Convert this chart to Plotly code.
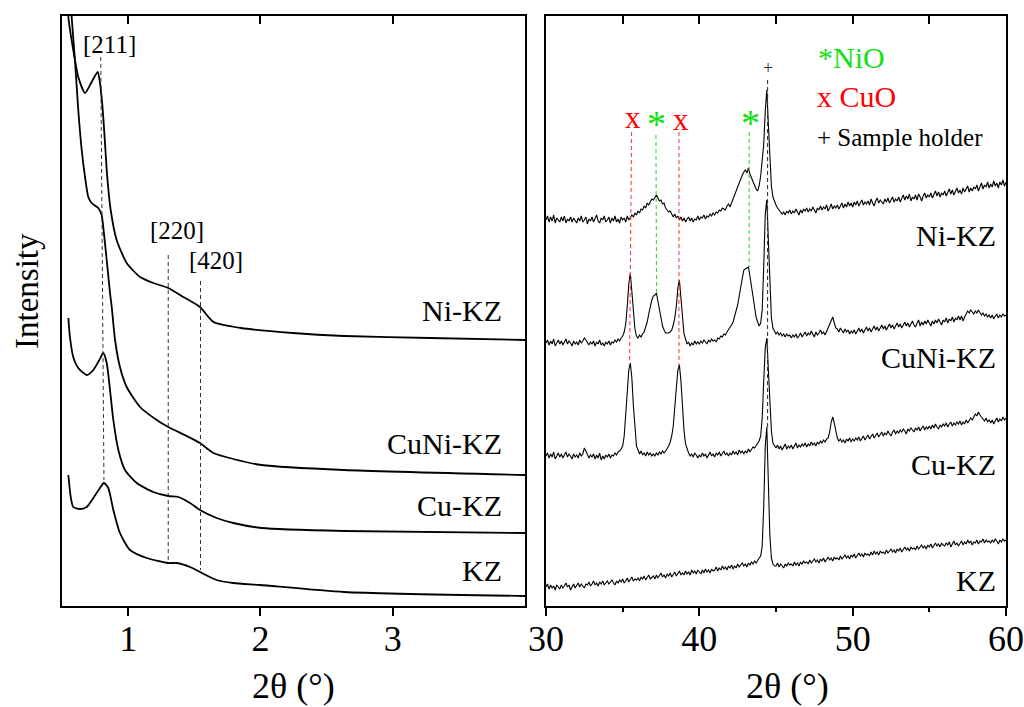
import numpy as np
import plotly.graph_objects as go

FONT = "Liberation Serif"

# ---------------- Left panel (low-angle XRD) ----------------
NI_KZ_LOW_X = [0.538, 0.548, 0.585, 0.623, 0.674, 0.724, 0.770, 0.787, 0.808, 0.825, 0.842, 0.868,
               0.913, 0.989, 1.090, 1.190, 1.303, 1.417, 1.543, 1.645, 1.853, 2.244, 2.632, 3.282, 4.0]
NI_KZ_LOW_Y = [616, 589, 556, 529, 513, 524, 534, 523, 496, 463, 429, 396,
               366, 343, 329, 323, 318, 309, 299, 284, 278, 273, 270, 268, 266]

CUNI_KZ_LOW_X = [0.564, 0.573, 0.598, 0.623, 0.649, 0.674, 0.699, 0.724, 0.774, 0.800, 0.812, 0.838,
                 0.863, 0.876, 0.901, 0.938, 0.989, 1.090, 1.216, 1.303, 1.443, 1.543, 1.644, 1.795,
                 2.009, 2.632, 4.0]
CUNI_KZ_LOW_Y = [616, 589, 546, 496, 456, 429, 409, 403, 398, 391, 379, 346,
                 313, 299, 266, 239, 219, 199, 186, 179, 170, 163, 153, 147,
                 141, 136, 131]

CU_KZ_LOW_X = [0.548, 0.560, 0.585, 0.623, 0.687, 0.737, 0.782, 0.812, 0.838, 0.863, 0.888, 0.926,
               0.976, 1.065, 1.190, 1.303, 1.379, 1.468, 1.543, 1.669, 1.795, 2.009, 2.632, 4.0]
CU_KZ_LOW_Y = [288, 269, 249, 238, 231, 236, 246, 253, 243, 216, 186, 156,
               136, 123, 114, 110, 109, 103, 96, 88, 83, 78, 75, 73]

KZ_LOW_X = [0.548, 0.566, 0.585, 0.636, 0.687, 0.737, 0.787, 0.817, 0.850, 0.888, 0.938, 1.014,
            1.140, 1.303, 1.367, 1.468, 1.543, 1.669, 1.795, 1.997, 2.632, 4.0]
KZ_LOW_Y = [131, 109, 99, 97, 99, 108, 118, 123, 118, 96, 73, 56,
            48, 43, 43, 39, 34, 26, 23, 21, 14, 10]

HKL_LABELS = ["[211]", "[220]", "[420]"]
HKL_LINE_X = [[0.793, 0.817], [1.303, 1.303], [1.547, 1.547]]
HKL_LINE_Y = [[549, 126], [351, 46], [325, 36]]

# ---------------- Right panel (wide-angle XRD) ----------------
TWO_THETA_WIDE = np.round(np.arange(300, 601) / 10.0, 1)  # 30.0 ... 60.0 step 0.1

NI_KZ_WIDE = [
    386, 390, 384, 389, 385, 391, 383, 388, 386, 384,
    389, 385, 390, 383, 387, 385, 389, 384, 388, 386,
    383, 388, 385, 390, 384, 386, 389, 382, 387, 385,
    389, 384, 387, 391, 385, 383, 388, 386, 390, 384,
    386, 389, 383, 388, 385, 390, 384, 387, 383, 389,
    386, 388, 384, 390, 386, 388, 391, 389, 393, 391,
    395, 393, 397, 396, 400, 398, 403, 401, 405, 407,
    406, 409, 411, 408, 405, 406, 402, 403, 398, 396,
    394, 395, 391, 389, 392, 388, 390, 386, 389, 385,
    388, 384, 387, 389, 385, 388, 384, 387, 386, 390,
    386, 389, 388, 391, 387, 390, 389, 392, 390, 393,
    391, 394, 393, 396, 395, 398, 397, 396, 400, 402,
    399, 403, 407, 412, 416, 421, 425, 428, 431, 434,
    436, 433, 438, 432, 428, 424, 420, 417, 415, 420,
    430, 445, 462, 495, 516, 482, 445, 420, 409, 404,
    401, 398, 396, 395, 392, 394, 391, 395, 393, 396,
    392, 395, 393, 397, 394, 391, 396, 393, 397, 395,
    398, 394, 397, 395, 399, 396, 393, 398, 396, 400,
    396, 399, 397, 401, 395, 398, 402, 397, 400, 398,
    401, 397, 400, 403, 398, 402, 399, 404, 400, 403,
    399, 404, 401, 405, 400, 403, 406, 401, 404, 402,
    405, 401, 407, 403, 400, 405, 408, 403, 406, 404,
    402, 407, 404, 408, 403, 406, 409, 404, 407, 405,
    409, 404, 408, 411, 406, 410, 407, 412, 405, 409,
    407, 411, 406, 412, 409, 405, 410, 413, 408, 411,
    409, 413, 408, 412, 415, 410, 414, 409, 413, 411,
    415, 410, 414, 417, 412, 416, 411, 415, 418, 413,
    416, 412, 418, 414, 417, 420, 414, 418, 415, 419,
    417, 421, 415, 420, 423, 417, 421, 419, 424, 418,
    422, 419, 425, 420, 423, 418, 424, 421, 426, 420,
    424]

CUNI_KZ_WIDE = [
    263, 266, 261, 265, 262, 267, 260, 264, 266, 262,
    265, 261, 264, 267, 262, 265, 263, 260, 265, 262,
    264, 261, 266, 263, 265, 268, 266, 263, 261, 264,
    262, 265, 260, 264, 262, 266, 261, 263, 260, 264,
    262, 265, 261, 264, 263, 266, 264, 267, 265, 268,
    270, 274, 282, 300, 322, 333, 315, 292, 277, 270,
    268, 271, 269, 272, 274, 279, 284, 292, 300, 306,
    310, 311, 313, 305, 298, 288, 280, 276, 273, 273,
    273, 274, 276, 281, 288, 300, 318, 326, 306, 284,
    272, 267, 262, 264, 260, 263, 261, 265, 262, 264,
    262, 265, 263, 266, 264, 262, 266, 264, 267, 265,
    266, 264, 268, 267, 270, 269, 272, 271, 274, 276,
    278, 281, 284, 289, 294, 301, 310, 320, 330, 336,
    337, 338, 339, 330, 320, 310, 298, 289, 284, 280,
    283, 296, 340, 392, 406, 365, 315, 288, 278, 274,
    272, 274, 271, 273, 270, 272, 269, 272, 270, 271,
    268, 271, 269, 272, 268, 270, 273, 269, 271, 274,
    270, 273, 271, 275, 272, 269, 274, 271, 273, 276,
    272, 274, 271, 275, 278, 282, 286, 289, 283, 278,
    277, 274, 278, 275, 273, 277, 274, 276, 272, 275,
    273, 276, 272, 275, 278, 274, 277, 273, 276, 279,
    275, 278, 274, 277, 280, 276, 279, 275, 278, 281,
    277, 280, 276, 279, 282, 278, 281, 277, 280, 283,
    279, 282, 278, 281, 284, 280, 283, 279, 282, 285,
    281, 279, 283, 286, 280, 284, 281, 285, 282, 286,
    283, 280, 285, 282, 286, 283, 287, 284, 281, 286,
    284, 288, 283, 287, 285, 289, 284, 288, 286, 290,
    286, 290, 285, 289, 292, 295, 293, 296, 294, 292,
    295, 293, 296, 294, 291, 293, 290, 292, 289, 291,
    288, 291, 287, 290, 292, 288, 291, 289, 292, 290,
    291]

CU_KZ_WIDE = [
    150, 153, 148, 152, 149, 154, 147, 151, 153, 149,
    152, 148, 151, 154, 149, 152, 150, 147, 152, 149,
    151, 148, 153, 150, 152, 158, 155, 151, 148, 151,
    149, 152, 147, 151, 148, 153, 146, 150, 147, 151,
    149, 152, 148, 151, 150, 153, 151, 154, 155, 157,
    160, 170, 190, 215, 236, 243, 228, 200, 175, 160,
    156, 152, 155, 151, 153, 150, 154, 151, 153, 150,
    152, 150, 153, 151, 154, 152, 155, 153, 155, 157,
    160, 164, 170, 180, 196, 218, 236, 241, 225, 198,
    176, 162, 156, 153, 150, 152, 149, 153, 151, 148,
    151, 149, 153, 150, 152, 148, 151, 154, 150, 152,
    149, 153, 151, 154, 150, 152, 155, 151, 153, 150,
    153, 151, 155, 152, 154, 151, 156, 153, 155, 152,
    155, 153, 157, 154, 156, 159, 158, 160, 162, 165,
    170, 188, 225, 258, 268, 240, 200, 175, 163, 160,
    158, 161, 157, 160, 156, 159, 162, 157, 160, 158,
    161, 157, 160, 163, 158, 161, 159, 162, 160, 163,
    159, 162, 160, 164, 161, 163, 160, 164, 162, 165,
    163, 166, 164, 167, 168, 174, 184, 189, 183, 175,
    168, 165, 167, 164, 166, 163, 167, 165, 168, 164,
    167, 165, 168, 166, 169, 165, 168, 170, 166, 169,
    171, 167, 170, 172, 168, 171, 173, 169, 172, 174,
    170, 173, 171, 175, 172, 170, 174, 176, 172, 175,
    173, 176, 174, 177, 175, 172, 177, 175, 178, 176,
    174, 178, 176, 179, 175, 178, 180, 176, 179, 177,
    180, 177, 181, 178, 182, 179, 177, 181, 179, 182,
    180, 183, 179, 182, 184, 180, 183, 181, 184, 182,
    185, 181, 184, 182, 186, 183, 185, 188, 186, 189,
    192, 190, 194, 191, 189, 187, 185, 188, 184, 186,
    183, 186, 182, 185, 188, 184, 187, 185, 189, 186,
    188]

KZ_WIDE = [
    19, 22, 17, 21, 18, 20, 16, 21, 19, 17,
    21, 18, 20, 23, 19, 21, 16, 20, 22, 18,
    20, 23, 19, 22, 20, 18, 22, 21, 24, 20,
    22, 25, 21, 23, 20, 24, 22, 25, 21, 23,
    25, 22, 24, 26, 23, 21, 25, 23, 26, 24,
    27, 23, 25, 28, 24, 26, 29, 25, 27, 26,
    28, 25, 29, 27, 30, 26, 28, 31, 27, 29,
    30, 27, 31, 28, 30, 33, 29, 31, 28, 32,
    30, 33, 29, 31, 34, 30, 32, 35, 31, 33,
    31, 35, 32, 34, 31, 36, 33, 35, 32, 36,
    34, 32, 36, 33, 37, 34, 36, 33, 37, 35,
    36, 39, 35, 38, 36, 40, 37, 39, 36, 40,
    38, 41, 37, 40, 38, 42, 39, 41, 43, 40,
    42, 39, 43, 41, 44, 42, 45, 43, 46, 48,
    50, 60, 100, 160, 179, 130, 70, 48, 42, 40,
    40, 43, 39, 42, 40, 38, 42, 40, 43, 41,
    42, 40, 44, 41, 43, 40, 44, 42, 45, 43,
    44, 42, 46, 43, 45, 47, 44, 46, 43, 47,
    45, 48, 44, 47, 49, 46, 48, 45, 49, 47,
    48, 46, 50, 47, 49, 51, 48, 50, 47, 51,
    49, 52, 48, 51, 53, 50, 52, 49, 53, 51,
    52, 50, 54, 51, 55, 52, 54, 51, 55, 53,
    54, 52, 56, 53, 55, 57, 54, 56, 53, 57,
    55, 58, 54, 57, 59, 56, 58, 55, 59, 57,
    58, 56, 60, 57, 59, 61, 58, 60, 57, 61,
    59, 62, 58, 61, 63, 60, 62, 59, 63, 61,
    60, 63, 61, 64, 59, 62, 65, 61, 63, 60,
    62, 65, 61, 64, 62, 66, 63, 65, 61, 64,
    63, 66, 62, 65, 64, 67, 63, 66, 64, 65,
    63, 66, 64, 67, 65, 62, 66, 64, 67, 65,
    66]

# reference lines for phases (x: 2theta, y: intensity)
PHASE_LINE_X = [[35.58, 35.45], [37.17, 37.21], [38.67, 38.67], [43.25, 43.25], [44.45, 44.45]]
PHASE_LINE_Y = [[474, 243], [471, 313], [474, 241], [474, 339], [526, 179]]
PHASE_LINE_COLORS = ["#ff3b3b", "#2ee02e", "#ff3b3b", "#2ee02e", "#333333"]

PEAK_MARK_TEXT = ["x", "*", "x", "*", "+"]
PEAK_MARK_X = [35.69, 37.21, 38.80, 43.34, 44.45]
PEAK_MARK_Y = [489, 482, 487, 483, 538]

GREEN = "#12e012"
RED = "#ff0000"

fig = go.Figure()

line_low = dict(color="black", width=1.8, shape="spline", smoothing=0.6)
for xs, ys in [(NI_KZ_LOW_X, NI_KZ_LOW_Y), (CUNI_KZ_LOW_X, CUNI_KZ_LOW_Y),
               (CU_KZ_LOW_X, CU_KZ_LOW_Y), (KZ_LOW_X, KZ_LOW_Y)]:
    fig.add_trace(go.Scatter(x=xs, y=ys, mode="lines", line=line_low, xaxis="x", yaxis="y",
                             hoverinfo="skip", showlegend=False))
for xs, ys in zip(HKL_LINE_X, HKL_LINE_Y):
    fig.add_trace(go.Scatter(x=xs, y=ys, mode="lines", line=dict(color="#333333", width=1, dash="4px,3px"),
                             xaxis="x", yaxis="y", hoverinfo="skip", showlegend=False))

line_wide = dict(color="black", width=1.1)
for ys in [NI_KZ_WIDE, CUNI_KZ_WIDE, CU_KZ_WIDE, KZ_WIDE]:
    fig.add_trace(go.Scatter(x=TWO_THETA_WIDE, y=ys, mode="lines", line=line_wide, xaxis="x2", yaxis="y2",
                             hoverinfo="skip", showlegend=False))
for xs, ys, c in zip(PHASE_LINE_X, PHASE_LINE_Y, PHASE_LINE_COLORS):
    fig.add_trace(go.Scatter(x=xs, y=ys, mode="lines", line=dict(color=c, width=1.1, dash="4px,3px"),
                             xaxis="x2", yaxis="y2", hoverinfo="skip", showlegend=False))

# invisible traces to activate top tick axes
fig.add_trace(go.Scatter(x=[1], y=[0], mode="markers", marker=dict(opacity=0), xaxis="x3", yaxis="y",
                         hoverinfo="skip", showlegend=False))
fig.add_trace(go.Scatter(x=[40], y=[0], mode="markers", marker=dict(opacity=0), xaxis="x4", yaxis="y2",
                         hoverinfo="skip", showlegend=False))

W, H = 1024, 707


def P(px, py):
    return px / W, 1 - py / H


XL = [62 / W, 525 / W]
XR = [546 / W, 1006 / W]
YD = [1 - 606 / H, 1 - 16 / H]

axis_common = dict(showgrid=False, zeroline=False, showline=True, linecolor="black", linewidth=1.5,
                   mirror=True, tickcolor="black", tickwidth=1.5, automargin=False,
                   ticklabeloverflow="allow",
                   tickfont=dict(family=FONT, size=36, color="black"))
top_common = dict(ticks="inside", ticklen=8, tickwidth=1.5, tickcolor="black", showticklabels=False,
                  showline=False, showgrid=False, zeroline=False, automargin=False)

fig.update_layout(
    width=W, height=H, margin=dict(l=0, r=0, t=0, b=0, pad=0, autoexpand=False),
    paper_bgcolor="white", plot_bgcolor="white", showlegend=False,
    font=dict(family=FONT, color="black"),
    xaxis=dict(domain=XL, range=[0.5, 4.0], tickvals=[1, 2, 3], ticks="outside", ticklen=8,
               anchor="y", ticklabelstandoff=-8, **axis_common),
    xaxis3=dict(overlaying="x", side="top", anchor="y", range=[0.5, 4.0], tickvals=[1, 2, 3], **top_common),
    yaxis=dict(domain=YD, range=[0, 590], showticklabels=False, ticks="", anchor="x", **axis_common),
    xaxis2=dict(domain=XR, range=[30, 60], tickvals=[30, 40, 50, 60], ticks="outside", ticklen=8,
                anchor="y2", ticklabelstandoff=-8,
                minor=dict(tickvals=[35, 45, 55], ticks="outside", ticklen=4, tickwidth=1.5, tickcolor="black"),
                **axis_common),
    xaxis4=dict(overlaying="x2", side="top", anchor="y2", range=[30, 60],
                tickvals=[35, 40, 45, 50, 55], **top_common),
    yaxis2=dict(domain=YD, range=[0, 590], showticklabels=False, ticks="", anchor="x2", **axis_common),
)

ann = []


def add_text(text, px, py, size, color="black", xanchor="center", angle=0):
    x, y = P(px, py)
    ann.append(dict(text=text, x=x, y=y, xref="paper", yref="paper", xanchor=xanchor, yanchor="middle",
                    showarrow=False, textangle=angle, font=dict(family=FONT, size=size, color=color)))


# sample labels
for name, py in [("Ni-KZ", 310), ("CuNi-KZ", 443), ("Cu-KZ", 505), ("KZ", 570)]:
    add_text(name, 504, py, 30, xanchor="right")
for name, py in [("Ni-KZ", 235), ("CuNi-KZ", 357), ("Cu-KZ", 465), ("KZ", 580)]:
    add_text(name, 998, py, 30, xanchor="right")

# hkl labels
for lab, (px, py) in zip(HKL_LABELS, [(109, 44), (177, 230), (216, 260)]):
    add_text(lab, px, py, 25)

# legend of phases
add_text("*NiO", 816, 57, 30, color=GREEN, xanchor="left")
add_text("x CuO", 815, 97, 30, color=RED, xanchor="left")
add_text("+ Sample holder", 815, 138, 25, xanchor="left")

# axis titles
add_text("2θ (°)", 293, 686, 36)
add_text("2θ (°)", 787, 686, 36)
add_text("Intensity", 27, 291, 33, angle=-90)

# peak markers in data coordinates
mark_colors = {"x": RED, "*": GREEN, "+": "#333333"}
mark_sizes = {"x": 31, "*": 38, "+": 18}
for t, x, y in zip(PEAK_MARK_TEXT, PEAK_MARK_X, PEAK_MARK_Y):
    ann.append(dict(text=t, x=x, y=y, xref="x2", yref="y2", xanchor="center", yanchor="middle",
                    showarrow=False, font=dict(family=FONT, size=mark_sizes[t], color=mark_colors[t])))

fig.update_layout(annotations=ann)
fig.write_html(
    "out.html",
    config={"displayModeBar": False},
    post_script="document.body.style.margin='0';document.body.style.padding='0';"
                "document.body.style.overflow='hidden';",
)
